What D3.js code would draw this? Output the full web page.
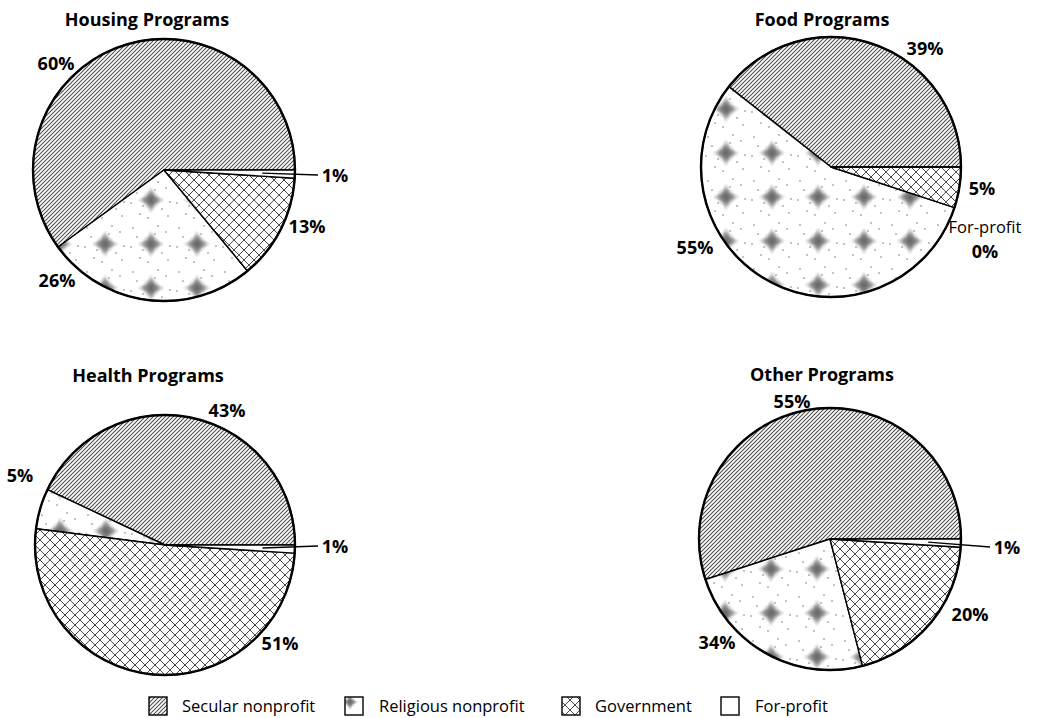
<!DOCTYPE html>
<html><head><meta charset="utf-8">
<script src="https://cdn.jsdelivr.net/npm/d3@7"></script>
<style>
body{margin:0;background:#fff}
svg{display:block}
text{font-family:"Open Sans","Noto Sans",sans-serif;fill:#000}
</style>
</head><body>
<svg id="chart" width="1043" height="718"></svg>
<script>
// ---- data ----
const categories = ["Secular nonprofit", "Religious nonprofit", "Government", "For-profit"];
const programs = ["Housing Programs", "Food Programs", "Health Programs", "Other Programs"];
const housingValues = [60, 26, 13, 1];
const foodValues = [39, 55, 5, 0];
const healthValues = [43, 5, 51, 1];
const otherValues = [55, 24, 20, 1];
const housingLabels = ["60%", "26%", "13%", "1%"];
const foodLabels = ["39%", "55%", "5%", "0%"];
const healthLabels = ["43%", "5%", "51%", "1%"];
const otherLabels = ["55%", "34%", "20%", "1%"];

// ---- layout (positions only) ----
const layout = [
  {cx: 164, cy: 170, r: 131, titleY: 26, lab: [[-108,-100],[-107,117],[143,63],[171,12]]},
  {cx: 831, cy: 167, r: 130, titleY: 26, lab: [[94,-112],[-136,87],[151,28],[154,91]]},
  {cx: 165, cy: 545, r: 130, titleY: 382, lab: [[62,-128],[-145,-63],[115,105],[170,8]]},
  {cx: 830, cy: 539, r: 131, titleY: 381, lab: [[-38,-131],[-113,110],[140,82],[177,15]]}
];
const titleX = [147, 822, 148, 822];
const valueSets = [housingValues, foodValues, healthValues, otherValues];
const labelSets = [housingLabels, foodLabels, healthLabels, otherLabels];

const svg = d3.select("#chart");
const defs = svg.append("defs");

// Secular: diagonal hatch
const pSec = defs.append("pattern").attr("id","p0").attr("patternUnits","userSpaceOnUse")
  .attr("width",4).attr("height",4);
pSec.append("rect").attr("width",4).attr("height",4).attr("fill","#fff");
pSec.append("path").attr("d","M-1,1 l2,-2 M0,4 l4,-4 M3,5 l2,-2")
  .attr("stroke","#4a4a4a").attr("stroke-width",1.05);

// Religious: white with gray blotches
const grad = defs.append("radialGradient").attr("id","blob");
grad.append("stop").attr("offset","0%").attr("stop-color","#666").attr("stop-opacity",0.9);
grad.append("stop").attr("offset","50%").attr("stop-color","#7a7a7a").attr("stop-opacity",0.65);
grad.append("stop").attr("offset","100%").attr("stop-color","#aaa").attr("stop-opacity",0);
function religiousPattern(id, w, h, x, y, bx, by, s) {
  const p = defs.append("pattern").attr("id", id).attr("patternUnits","userSpaceOnUse")
    .attr("width", w).attr("height", h).attr("x", x).attr("y", y);
  p.append("rect").attr("width", w).attr("height", h).attr("fill","#fff");
  const b = p.append("g").attr("transform", `translate(${bx},${by}) scale(${s})`);
  b.append("ellipse").attr("rx",14).attr("ry",5).attr("fill","url(#blob)");
  b.append("ellipse").attr("rx",5).attr("ry",14).attr("fill","url(#blob)");
  b.append("circle").attr("r",10).attr("fill","url(#blob)");
  return p;
}
const pRel = religiousPattern("p1", 46, 44, 10, 8, 23, 22, 1);
[[5,6],[38,10],[12,36],[40,38],[30,4],[3,25],[42,24],[20,40],[9,15],[34,31],[27,12],[15,28]].forEach(p=>{
  pRel.append("circle").attr("cx",p[0]).attr("cy",p[1]).attr("r",0.8).attr("fill","#777");
});

// Government: crosshatch
const pGov = defs.append("pattern").attr("id","p2").attr("patternUnits","userSpaceOnUse")
  .attr("width",10).attr("height",10);
pGov.append("rect").attr("width",10).attr("height",10).attr("fill","#fff");
pGov.append("path").attr("d","M0,0 L10,10 M10,0 L0,10 M-1,9 L1,11 M9,-1 L11,1")
  .attr("stroke","#333").attr("stroke-width",0.9);
pGov.append("circle").attr("cx",5).attr("cy",5).attr("r",0.8).attr("fill","#555");

const fills = ["url(#p0)","url(#p1)","url(#p2)","#fff"];

const pie = d3.pie().sort(null).value(d => d)
  .startAngle(Math.PI/2).endAngle(Math.PI/2 - 2*Math.PI);

valueSets.forEach((vals, i) => {
  const L = layout[i];
  const g = svg.append("g").attr("transform", `translate(${L.cx},${L.cy})`);
  const arc = d3.arc().innerRadius(0).outerRadius(L.r);
  const arcs = pie(vals);
  g.selectAll("path.slice").data(arcs).join("path").attr("class","slice")
    .attr("d", arc).attr("fill", (d,j) => fills[j])
    .attr("stroke","#000").attr("stroke-width",1.4).attr("stroke-linejoin","round");
  g.append("circle").attr("r",L.r).attr("fill","none").attr("stroke","#000").attr("stroke-width",2.4);

  svg.append("text").attr("x", titleX[i]).attr("y", L.titleY)
    .attr("text-anchor","middle").attr("font-weight","bold").attr("font-size",18)
    .text(programs[i]);

  arcs.forEach((a, j) => {
    const [dx, dy] = L.lab[j];
    const t = labelSets[i][j];
    if (vals[j] === 1) {
      const mid = (a.startAngle + a.endAngle)/2;
      const rr = L.r * 0.75;
      g.append("line")
        .attr("x1", Math.sin(mid) * rr).attr("y1", -Math.cos(mid) * rr)
        .attr("x2", dx - 17).attr("y2", dy - 7)
        .attr("stroke","#000").attr("stroke-width",1.4);
    }
    if (i === 1 && j === 3) {
      g.append("text").attr("x", dx).attr("y", dy - 25).attr("text-anchor","middle")
        .attr("font-size",16.5).text(categories[3]);
    }
    g.append("text").attr("x", dx).attr("y", dy).attr("text-anchor","middle")
      .attr("font-weight","bold").attr("font-size",18).text(t);
  });
});

// legend
const legX = [149, 345, 562, 721];
const legTX = [182, 379, 595, 755];
religiousPattern("p1l", 18, 18, legX[1], 697, 5, 5, 0.6);
const legFills = ["url(#p0)","url(#p1l)","url(#p2)","#fff"];
const lg = svg.append("g");
categories.forEach((c, j) => {
  lg.append("rect").attr("x", legX[j]).attr("y", 697).attr("width",18).attr("height",18)
    .attr("fill", legFills[j]).attr("stroke","#000").attr("stroke-width",1.4);
  lg.append("text").attr("x", legTX[j]).attr("y", 712).attr("font-size",16.5).text(c);
});
</script>
</body></html>
